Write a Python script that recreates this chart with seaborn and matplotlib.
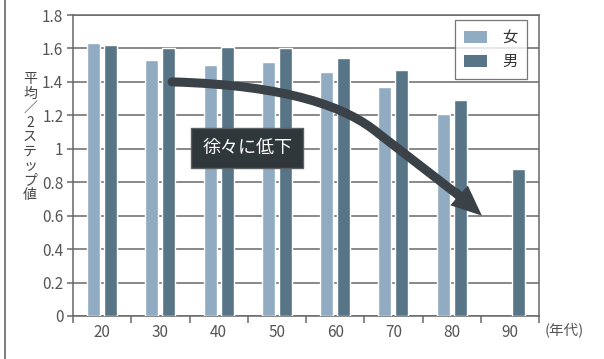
import numpy as np
import pandas as pd
import seaborn as sns
import matplotlib.pyplot as plt
from matplotlib.path import Path
from matplotlib.patches import FancyArrowPatch, PathPatch, Patch
from matplotlib.lines import Line2D

# Data
#-------------------------------------------------------------------------------------------------#
decades = ["20", "30", "40", "50", "60", "70", "80", "90"]
female = [1.63, 1.53, 1.50, 1.52, 1.46, 1.37, 1.21, np.nan]
male = [1.62, 1.60, 1.61, 1.60, 1.54, 1.47, 1.29, 0.88]
series_names = ["女", "男"]
y_ticks = [0, 0.2, 0.4, 0.6, 0.8, 1, 1.2, 1.4, 1.6, 1.8]
y_label = "平均／2ステップ値"
x_unit = "(年代)"
note_text = "徐々に低下"

df = pd.DataFrame({
    "年代": decades * 2,
    "値": female + male,
    "性別": [series_names[0]] * len(decades) + [series_names[1]] * len(decades),
})

sns.set_theme(style="white")
plt.rcParams["font.family"] = ["Noto Sans CJK JP", "DejaVu Sans"]

colors = {"女": "#91acc2", "男": "#587487"}
grid_col = "#686868"
text_col = "#555555"
arrow_col = "#3a4247"

fig = plt.figure(figsize=(6.04, 3.59), dpi=100)
ax = fig.add_axes([73 / 604, 1 - 316 / 359, 466 / 604, 301 / 359])

sns.barplot(data=df, x="年代", y="値", hue="性別", hue_order=series_names,
            palette=colors, saturation=1, width=0.584, gap=0.235,
            errorbar=None, legend=False, ax=ax, zorder=3)

ax.set_xlim(-0.5, len(decades) - 0.5)
ax.set_ylim(0, 1.8)
ax.set_yticks(y_ticks)
ax.set_yticklabels([f"{v:g}" for v in y_ticks])
ax.yaxis.grid(True, color=grid_col, lw=1.1, zorder=0)
ax.set_axisbelow(True)
for s in ax.spines.values():
    s.set_color(grid_col)
    s.set_linewidth(1.1)

# category labels at centres, tick marks at the boundaries
ax.set_xticks(range(len(decades)))
ax.set_xticklabels(decades)
ax.set_xticks(np.arange(-0.5, len(decades)), minor=True)
ax.tick_params(axis="x", which="major", length=0, pad=6, labelsize=11, labelcolor=text_col)
ax.tick_params(axis="x", which="minor", length=5, width=1.1, color=grid_col, direction="out")
ax.tick_params(axis="y", length=4, width=1.1, color=grid_col, direction="out", pad=3,
               labelsize=11, labelcolor=text_col)
ax.xaxis.set_tick_params(bottom=True, which="both")
ax.yaxis.set_tick_params(left=True)
ax.set_xlabel("")
ax.set_ylabel("")

ax.text(1.012, -0.047, x_unit, transform=ax.transAxes, ha="left", va="center",
        fontsize=10.5, color=text_col)

# vertical (tategaki) axis title
fig.text(30 / 604, 1 - 137 / 359, "\n".join(y_label), ha="center", va="center",
         fontsize=10, color="#444444", linespacing=1.04)

# legend
handles = [Patch(facecolor=colors[n], edgecolor="none", label=n) for n in series_names]
leg = ax.legend(handles=handles, loc="upper right", bbox_to_anchor=(0.974, 0.983),
                fontsize=11, frameon=True, fancybox=False, handlelength=1.5,
                handleheight=0.9, handletextpad=1.0, labelspacing=0.45,
                borderpad=0.6, borderaxespad=0)
leg.get_frame().set_edgecolor("#555555")
leg.get_frame().set_linewidth(0.9)
for t in leg.get_texts():
    t.set_color("#333333")

# curved "declining" arrow: flat start, bending into a straight descent
shaft = Path([(1.2, 1.40), (3.2, 1.38), (4.2, 1.25), (4.75, 1.09), (6.2, 0.70)],
             [Path.MOVETO, Path.CURVE4, Path.CURVE4, Path.CURVE4, Path.LINETO])
ax.add_patch(PathPatch(shaft, fill=False, ec=arrow_col, lw=6.5, capstyle="round",
                       joinstyle="round", zorder=5))
head = FancyArrowPatch((6.05, 0.745), (6.52, 0.60),
                       arrowstyle="simple,tail_width=6.5,head_width=19,head_length=22",
                       mutation_scale=1, color=arrow_col, lw=0, zorder=5,
                       shrinkA=0, shrinkB=0)
ax.add_patch(head)

ax.text(2.49, 1.005, note_text, ha="center", va="center", fontsize=13, color="white",
        zorder=6, bbox=dict(boxstyle="square,pad=0.6", fc="#30373b", ec="#5a5f62", lw=1))

# page border on the left
fig.add_artist(Line2D([4.5 / 604, 4.5 / 604], [0, 1], color="#666666", lw=1.2))

fig.savefig("out.png", dpi=100)
